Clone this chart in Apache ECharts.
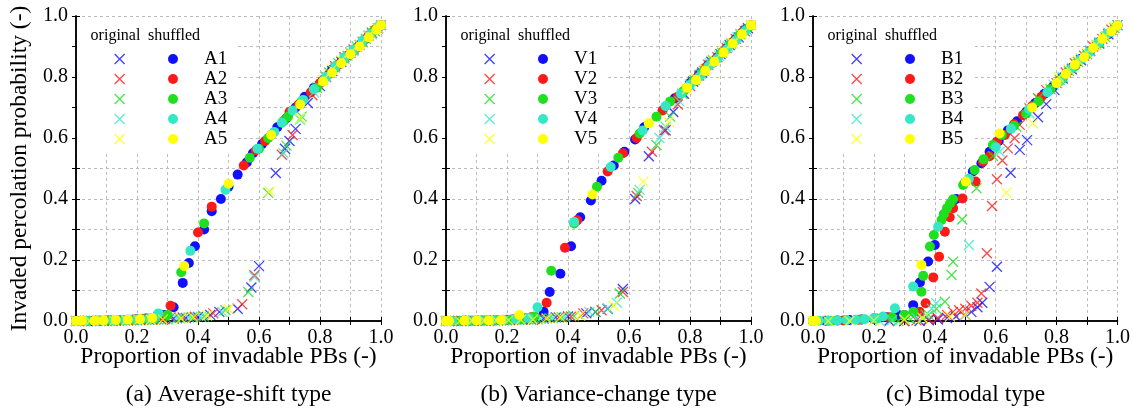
<!DOCTYPE html>
<html>
<head>
<meta charset="utf-8">
<script src="https://cdn.jsdelivr.net/npm/echarts@6/dist/echarts.min.js"></script>
<style>
  html, body { margin: 0; padding: 0; background: #fff; }
  #chart { width: 1133px; height: 409px; }
</style>
</head>
<body>
<div id="chart"></div>
<script>
// series colours (1..5)
const seriesColors = ['#1010ff', '#ff1a1a', '#1ee01e', '#35e8c5', '#ffff00'];
const yTickLabels = ['0.0', '0.2', '0.4', '0.6', '0.8', '1.0'];
const xTickLabels = ['0.0', '0.2', '0.4', '0.6', '0.8', '1.0'];
const captions = ['(a) Average-shift type', '(b) Variance-change type', '(c) Bimodal type'];
const avgNames = ['A1', 'A2', 'A3', 'A4', 'A5'];
const varNames = ['V1', 'V2', 'V3', 'V4', 'V5'];
const bimNames = ['B1', 'B2', 'B3', 'B4', 'B5'];

// (a) average-shift, original
const avgOrig1 = [[0,0],[0.04,0],[0.08,0.001],[0.12,0.001],[0.16,0.002],[0.2,0.003],[0.24,0.004],[0.28,0.006],[0.32,0.008],[0.36,0.01],[0.4,0.013],[0.44,0.02],[0.47,0.03],[0.53,0.04],[0.575,0.11],[0.6,0.18],[0.655,0.485],[0.685,0.565],[0.7,0.59],[0.72,0.63],[0.76,0.715],[0.8,0.77],[0.84,0.82],[0.87,0.85],[0.9,0.88],[0.93,0.905],[0.96,0.935],[0.99,0.96]];
const avgOrig2 = [[0.01,0],[0.05,0],[0.09,0.001],[0.13,0.001],[0.17,0.002],[0.21,0.003],[0.25,0.004],[0.29,0.006],[0.31,0.012],[0.35,0.012],[0.39,0.014],[0.45,0.025],[0.545,0.055],[0.585,0.15],[0.675,0.545],[0.71,0.61],[0.775,0.74],[0.82,0.8],[0.85,0.835],[0.88,0.865],[0.91,0.89],[0.94,0.915],[0.97,0.945],[1,0.97]];
const avgOrig3 = [[0.02,0],[0.06,0],[0.1,0.001],[0.14,0.001],[0.18,0.002],[0.22,0.003],[0.26,0.004],[0.3,0.006],[0.34,0.01],[0.38,0.012],[0.42,0.015],[0.49,0.035],[0.565,0.095],[0.63,0.42],[0.69,0.575],[0.74,0.67],[0.79,0.765],[0.83,0.815],[0.86,0.845],[0.89,0.87],[0.92,0.9],[0.95,0.925],[0.98,0.95]];
const avgOrig4 = [[0.03,0],[0.07,0],[0.11,0.001],[0.15,0.002],[0.19,0.002],[0.23,0.003],[0.27,0.005],[0.33,0.008],[0.37,0.012],[0.41,0.014],[0.48,0.03],[0.585,0.145],[0.68,0.55],[0.735,0.66],[0.78,0.75],[0.82,0.8],[0.85,0.83],[0.88,0.86],[0.91,0.885],[0.94,0.915],[0.97,0.94],[1,0.97]];
const avgOrig5 = [[0,0],[0.045,0],[0.085,0.001],[0.125,0.001],[0.165,0.002],[0.205,0.003],[0.245,0.004],[0.285,0.005],[0.345,0.008],[0.385,0.012],[0.43,0.018],[0.5,0.04],[0.635,0.425],[0.735,0.665],[0.81,0.79],[0.84,0.825],[0.87,0.855],[0.9,0.88],[0.93,0.905],[0.96,0.935],[0.99,0.96]];
// (a) average-shift, shuffled
const avgShuf1 = [[0,0],[0.02,0],[0.05,0],[0.08,0.001],[0.11,0.002],[0.14,0.003],[0.17,0.004],[0.2,0.006],[0.23,0.008],[0.26,0.012],[0.29,0.02],[0.32,0.045],[0.35,0.125],[0.37,0.19],[0.39,0.245],[0.42,0.3],[0.445,0.36],[0.475,0.4],[0.5,0.44],[0.53,0.48],[0.56,0.52],[0.58,0.55],[0.61,0.58],[0.64,0.61],[0.66,0.635],[0.69,0.665],[0.72,0.7],[0.75,0.735],[0.78,0.765],[0.81,0.79],[0.84,0.825],[0.87,0.85],[0.9,0.875],[0.93,0.905],[0.96,0.935],[0.99,0.96]];
const avgShuf2 = [[0,0],[0.03,0],[0.06,0.001],[0.1,0.001],[0.13,0.002],[0.16,0.003],[0.19,0.005],[0.22,0.007],[0.25,0.01],[0.28,0.015],[0.31,0.05],[0.4,0.29],[0.445,0.375],[0.55,0.51],[0.59,0.56],[0.62,0.59],[0.68,0.655],[0.7,0.685],[0.73,0.71],[0.77,0.75],[0.8,0.78],[0.83,0.81],[0.86,0.84],[0.89,0.87],[0.92,0.895],[0.95,0.925],[0.98,0.955],[1,0.97]];
const avgShuf3 = [[0,0],[0.04,0],[0.07,0.001],[0.1,0.002],[0.14,0.003],[0.18,0.004],[0.22,0.006],[0.26,0.01],[0.3,0.02],[0.345,0.16],[0.42,0.32],[0.57,0.535],[0.6,0.565],[0.63,0.6],[0.68,0.655],[0.695,0.67],[0.74,0.72],[0.79,0.765],[0.82,0.8],[0.85,0.83],[0.88,0.86],[0.91,0.885],[0.94,0.915],[0.97,0.945],[1,0.97]];
const avgShuf4 = [[0,0],[0.03,0.001],[0.07,0.001],[0.12,0.002],[0.16,0.003],[0.2,0.005],[0.24,0.008],[0.27,0.025],[0.375,0.23],[0.49,0.43],[0.595,0.565],[0.65,0.62],[0.675,0.65],[0.71,0.69],[0.745,0.725],[0.78,0.76],[0.82,0.8],[0.85,0.835],[0.88,0.865],[0.91,0.89],[0.94,0.92],[0.965,0.94],[0.99,0.965]];
const avgShuf5 = [[0,0],[0.02,0.001],[0.06,0.001],[0.09,0.002],[0.13,0.003],[0.17,0.004],[0.21,0.006],[0.25,0.01],[0.355,0.18],[0.5,0.45],[0.64,0.61],[0.735,0.71],[0.81,0.785],[0.84,0.815],[0.87,0.845],[0.9,0.875],[0.93,0.9],[0.96,0.93],[0.985,0.955],[1,0.97]];

// (b) variance-change, original
const varOrig1 = [[0,0],[0.04,0],[0.08,0.001],[0.12,0.001],[0.16,0.002],[0.2,0.003],[0.24,0.004],[0.28,0.005],[0.32,0.008],[0.36,0.012],[0.4,0.015],[0.46,0.025],[0.49,0.03],[0.53,0.04],[0.58,0.105],[0.62,0.4],[0.665,0.54],[0.72,0.625],[0.745,0.685],[0.78,0.745],[0.81,0.785],[0.84,0.815],[0.87,0.85],[0.9,0.875],[0.93,0.905],[0.96,0.93],[0.99,0.96]];
const varOrig2 = [[0.01,0],[0.05,0],[0.09,0.001],[0.13,0.001],[0.17,0.002],[0.21,0.003],[0.25,0.004],[0.29,0.006],[0.33,0.009],[0.37,0.012],[0.41,0.015],[0.45,0.025],[0.51,0.035],[0.58,0.095],[0.625,0.41],[0.675,0.555],[0.715,0.625],[0.76,0.71],[0.8,0.77],[0.83,0.805],[0.86,0.84],[0.89,0.865],[0.92,0.895],[0.95,0.925],[0.98,0.95]];
const varOrig3 = [[0.02,0],[0.06,0],[0.1,0.001],[0.14,0.001],[0.18,0.002],[0.22,0.003],[0.26,0.004],[0.3,0.006],[0.34,0.01],[0.38,0.012],[0.42,0.016],[0.49,0.03],[0.57,0.09],[0.63,0.42],[0.69,0.577],[0.735,0.67],[0.775,0.745],[0.815,0.79],[0.845,0.82],[0.875,0.855],[0.905,0.88],[0.935,0.91],[0.965,0.94],[1,0.97]];
const varOrig4 = [[0.03,0],[0.07,0],[0.11,0.001],[0.15,0.002],[0.19,0.002],[0.23,0.003],[0.27,0.005],[0.31,0.007],[0.35,0.01],[0.39,0.013],[0.47,0.03],[0.53,0.04],[0.56,0.06],[0.635,0.43],[0.7,0.6],[0.72,0.637],[0.765,0.72],[0.8,0.775],[0.835,0.81],[0.865,0.845],[0.895,0.87],[0.925,0.9],[0.955,0.93],[0.985,0.955]];
const varOrig5 = [[0,0],[0.045,0],[0.085,0.001],[0.125,0.001],[0.165,0.002],[0.205,0.003],[0.245,0.004],[0.285,0.005],[0.33,0.008],[0.375,0.012],[0.44,0.018],[0.55,0.05],[0.647,0.457],[0.73,0.653],[0.79,0.76],[0.82,0.795],[0.85,0.825],[0.88,0.855],[0.91,0.885],[0.94,0.91],[0.97,0.94],[1,0.97]];
// (b) variance-change, shuffled
const varShuf1 = [[0,0],[0.03,0],[0.06,0.001],[0.1,0.001],[0.14,0.002],[0.18,0.003],[0.22,0.005],[0.26,0.008],[0.32,0.03],[0.34,0.095],[0.375,0.155],[0.41,0.245],[0.44,0.34],[0.475,0.395],[0.51,0.46],[0.55,0.51],[0.585,0.555],[0.62,0.595],[0.65,0.635],[0.75,0.73],[0.8,0.78],[0.83,0.81],[0.86,0.84],[0.89,0.865],[0.92,0.895],[0.95,0.925],[0.98,0.955]];
const varShuf2 = [[0,0],[0.04,0],[0.08,0.001],[0.12,0.002],[0.16,0.002],[0.2,0.004],[0.24,0.006],[0.28,0.012],[0.33,0.06],[0.39,0.24],[0.43,0.33],[0.53,0.49],[0.58,0.55],[0.625,0.6],[0.71,0.69],[0.76,0.735],[0.79,0.765],[0.82,0.795],[0.85,0.83],[0.88,0.855],[0.91,0.885],[0.94,0.915],[0.97,0.945],[1,0.97]];
const varShuf3 = [[0,0],[0.05,0],[0.09,0.001],[0.13,0.002],[0.17,0.003],[0.21,0.004],[0.25,0.007],[0.29,0.015],[0.345,0.165],[0.42,0.32],[0.495,0.44],[0.565,0.535],[0.635,0.615],[0.69,0.67],[0.735,0.72],[0.78,0.755],[0.81,0.785],[0.84,0.815],[0.87,0.845],[0.9,0.875],[0.93,0.905],[0.96,0.935],[0.99,0.96]];
const varShuf4 = [[0,0],[0.02,0],[0.07,0.001],[0.11,0.002],[0.15,0.002],[0.19,0.003],[0.23,0.005],[0.27,0.01],[0.3,0.045],[0.42,0.325],[0.54,0.505],[0.645,0.625],[0.72,0.705],[0.77,0.745],[0.8,0.775],[0.83,0.8],[0.86,0.835],[0.89,0.86],[0.92,0.89],[0.95,0.92],[0.98,0.95]];
const varShuf5 = [[0,0],[0.01,0],[0.06,0.001],[0.1,0.002],[0.14,0.002],[0.18,0.003],[0.24,0.02],[0.48,0.415],[0.665,0.648],[0.79,0.765],[0.82,0.79],[0.85,0.82],[0.88,0.85],[0.91,0.88],[0.94,0.91],[0.97,0.94],[1,0.97]];

// (c) bimodal, original
const bimOrig1 = [[0.25,0],[0.3,0],[0.35,0],[0.38,0.002],[0.41,0.005],[0.44,0.01],[0.47,0.015],[0.5,0.02],[0.52,0.03],[0.54,0.045],[0.556,0.06],[0.58,0.112],[0.604,0.178],[0.649,0.486],[0.679,0.561],[0.703,0.593],[0.739,0.668],[0.766,0.711],[0.793,0.757],[0.82,0.795],[0.85,0.825],[0.88,0.855],[0.91,0.885],[0.94,0.91],[0.97,0.94],[1,0.97]];
const bimOrig2 = [[0.3,0],[0.34,0.002],[0.38,0.005],[0.41,0.01],[0.44,0.02],[0.46,0.03],[0.48,0.035],[0.5,0.04],[0.52,0.05],[0.54,0.06],[0.553,0.09],[0.571,0.222],[0.588,0.377],[0.604,0.465],[0.622,0.526],[0.64,0.566],[0.662,0.599],[0.679,0.643],[0.711,0.697],[0.74,0.73],[0.766,0.757],[0.8,0.78],[0.83,0.815],[0.86,0.845],[0.89,0.87],[0.92,0.9],[0.95,0.925],[0.98,0.955]];
const bimOrig3 = [[0.28,0],[0.32,0.005],[0.36,0.01],[0.38,0.02],[0.405,0.04],[0.433,0.063],[0.455,0.151],[0.46,0.194],[0.49,0.333],[0.537,0.435],[0.591,0.541],[0.668,0.637],[0.739,0.73],[0.78,0.76],[0.81,0.79],[0.84,0.82],[0.87,0.85],[0.9,0.875],[0.93,0.905],[0.96,0.93],[0.99,0.96]];
const bimOrig4 = [[0.22,0],[0.26,0.003],[0.3,0.006],[0.34,0.01],[0.37,0.02],[0.39,0.04],[0.405,0.058],[0.512,0.249],[0.613,0.555],[0.711,0.681],[0.79,0.775],[0.82,0.8],[0.85,0.83],[0.88,0.86],[0.91,0.885],[0.94,0.915],[0.97,0.945],[1,0.97]];
const bimOrig5 = [[0,0],[0.05,0],[0.12,0],[0.2,0.002],[0.3,0.005],[0.36,0.01],[0.45,0.015],[0.5,0.02],[0.635,0.421],[0.722,0.648],[0.808,0.799],[0.84,0.825],[0.87,0.855],[0.9,0.88],[0.93,0.905],[0.96,0.935],[0.99,0.965]];
// (c) bimodal, shuffled
const bimShuf1 = [[0,0],[0.04,0.001],[0.08,0.002],[0.12,0.003],[0.16,0.005],[0.2,0.008],[0.24,0.012],[0.28,0.02],[0.329,0.052],[0.351,0.126],[0.378,0.195],[0.4,0.249],[0.43,0.35],[0.455,0.38],[0.47,0.4],[0.5,0.455],[0.525,0.49],[0.553,0.517],[0.58,0.555],[0.61,0.59],[0.64,0.625],[0.67,0.655],[0.7,0.685],[0.73,0.715],[0.76,0.745],[0.79,0.77],[0.82,0.8],[0.85,0.83],[0.88,0.86],[0.91,0.885],[0.94,0.915],[0.97,0.94],[1,0.97]];
const bimShuf2 = [[0,0],[0.05,0.001],[0.1,0.002],[0.15,0.004],[0.2,0.007],[0.25,0.012],[0.3,0.02],[0.35,0.03],[0.37,0.058],[0.395,0.143],[0.414,0.211],[0.433,0.293],[0.449,0.34],[0.46,0.37],[0.491,0.402],[0.534,0.457],[0.558,0.522],[0.58,0.54],[0.604,0.588],[0.63,0.61],[0.66,0.645],[0.69,0.675],[0.72,0.705],[0.75,0.735],[0.78,0.76],[0.81,0.79],[0.84,0.82],[0.87,0.85],[0.9,0.875],[0.93,0.905],[0.96,0.935],[0.99,0.96]];
const bimShuf3 = [[0,0],[0.06,0.001],[0.11,0.003],[0.16,0.005],[0.21,0.008],[0.26,0.012],[0.3,0.02],[0.33,0.03],[0.356,0.096],[0.362,0.148],[0.384,0.244],[0.397,0.282],[0.422,0.331],[0.43,0.35],[0.44,0.37],[0.45,0.385],[0.46,0.399],[0.493,0.446],[0.531,0.495],[0.56,0.53],[0.591,0.577],[0.62,0.61],[0.66,0.64],[0.7,0.68],[0.74,0.72],[0.78,0.76],[0.82,0.795],[0.86,0.835],[0.9,0.875],[0.94,0.91],[0.98,0.95]];
const bimShuf4 = [[0,0],[0.02,0.001],[0.05,0.001],[0.08,0.002],[0.11,0.003],[0.14,0.004],[0.17,0.006],[0.2,0.009],[0.23,0.015],[0.269,0.042],[0.329,0.113],[0.411,0.309],[0.512,0.466],[0.6,0.57],[0.65,0.63],[0.71,0.695],[0.77,0.75],[0.81,0.785],[0.845,0.825],[0.875,0.855],[0.905,0.88],[0.935,0.91],[0.965,0.94],[0.995,0.965]];
const bimShuf5 = [[0,0],[0.01,0],[0.356,0.184],[0.502,0.457],[0.613,0.615],[0.72,0.7],[0.8,0.78],[0.83,0.81],[0.86,0.84],[0.89,0.865],[0.92,0.895],[0.95,0.925],[0.98,0.95],[1,0.97]];

const panels = [
  { left: 76, names: avgNames, orig: [avgOrig1, avgOrig2, avgOrig3, avgOrig4, avgOrig5], shuf: [avgShuf1, avgShuf2, avgShuf3, avgShuf4, avgShuf5] },
  { left: 446, names: varNames, orig: [varOrig1, varOrig2, varOrig3, varOrig4, varOrig5], shuf: [varShuf1, varShuf2, varShuf3, varShuf4, varShuf5] },
  { left: 813, names: bimNames, orig: [bimOrig1, bimOrig2, bimOrig3, bimOrig4, bimOrig5], shuf: [bimShuf1, bimShuf2, bimShuf3, bimShuf4, bimShuf5] }
];

const SERIF = '"Liberation Serif", "Times New Roman", serif';
const CROSS = 'path://M0,0L10,10M10,0L0,10';
const PLOT = 305, TOP = 16;

const chart = echarts.init(document.getElementById('chart'), null, { renderer: 'canvas' });

const grid = [], xAxis = [], yAxis = [], series = [], legend = [], graphic = [];

const tickFmt = (labels) => (v) => {
  const k = Math.round(v * 10);
  return k % 2 === 0 ? labels[k / 2] : '';
};

panels.forEach((p, g) => {
  grid.push({ left: p.left, top: TOP, width: PLOT, height: PLOT });
  const axisLine = { show: true, lineStyle: { color: '#000', width: 1.5 } };
  const axisTick = { show: true, inside: true, length: 4, lineStyle: { color: '#000', width: 1 } };
  xAxis.push({
    type: 'value', gridIndex: g, min: 0, max: 1, interval: 0.1, position: 'bottom',
    axisLine, axisTick,
    axisLabel: { formatter: tickFmt(xTickLabels), fontFamily: SERIF, fontSize: 20, color: '#000', margin: 7 },
    splitLine: { show: true, lineStyle: { color: '#bdbdbd', type: [3, 3], width: 1 } },
    name: 'Proportion of invadable PBs (-)', nameLocation: 'middle', nameGap: 24, nameMoveOverlap: false,
    nameTextStyle: { fontFamily: SERIF, fontSize: 23.5, color: '#000', verticalAlign: 'top' }
  });
  xAxis.push({
    type: 'value', gridIndex: g, min: 0, max: 1, interval: 0.1, position: 'top',
    axisLine, axisTick, axisLabel: { show: false }, splitLine: { show: false }
  });
  yAxis.push({
    type: 'value', gridIndex: g, min: 0, max: 1, interval: 0.1, position: 'left',
    axisLine, axisTick,
    axisLabel: { formatter: tickFmt(yTickLabels), fontFamily: SERIF, fontSize: 20, color: '#000', margin: 8 },
    splitLine: { show: true, lineStyle: { color: '#bdbdbd', type: [3, 3], width: 1 } },
    name: g === 0 ? 'Invaded percolation probability (-)' : '', nameLocation: 'middle', nameGap: 44,
    nameMoveOverlap: false,
    nameTextStyle: { fontFamily: SERIF, fontSize: 23.5, color: '#000' }
  });
  yAxis.push({
    type: 'value', gridIndex: g, min: 0, max: 1, interval: 0.1, position: 'right',
    axisLine, axisTick, axisLabel: { show: false }, splitLine: { show: false }
  });

  const origLegend = [], shufLegend = [];
  p.names.forEach((nm, i) => {
    const col = seriesColors[i];
    series.push({
      type: 'scatter', name: nm + ' original', xAxisIndex: g * 2, yAxisIndex: g * 2,
      data: p.orig[i], symbol: CROSS, symbolSize: 10,
      itemStyle: { color: 'rgba(0,0,0,0)', borderColor: col, borderWidth: 1.3 }
    });
    series.push({
      type: 'scatter', name: nm, xAxisIndex: g * 2, yAxisIndex: g * 2,
      data: p.shuf[i], symbol: 'circle', symbolSize: 10,
      itemStyle: { color: col, opacity: 1 }
    });
    origLegend.push({ name: nm + ' original', icon: CROSS,
      itemStyle: { color: 'rgba(0,0,0,0)', borderColor: col, borderWidth: 1.3 } });
    shufLegend.push({ name: nm, icon: 'circle', itemStyle: { color: col, borderWidth: 0 } });
  });

  const legTextStyle = {
    fontFamily: SERIF, fontSize: 19, color: '#000', lineHeight: 20,
    rich: { g: { width: 21, lineHeight: 20 } }
  };
  legend.push({
    data: origLegend, orient: 'vertical', left: p.left + 38, top: 49, padding: 0, itemGap: 0,
    itemWidth: 10, itemHeight: 10, selectedMode: false, formatter: () => ' ',
    textStyle: legTextStyle, z: 5
  });
  legend.push({
    data: shufLegend, orient: 'vertical', left: p.left + 92, top: 49, padding: 0, itemGap: 0,
    itemWidth: 10, itemHeight: 10, selectedMode: false, formatter: '{g| }{name}',
    textStyle: legTextStyle, z: 5
  });

  // white box behind the legend (hides grid lines)
  graphic.push({
    type: 'rect', z: 1, silent: true,
    shape: { x: p.left + 1, y: TOP + 1, width: 160, height: 135 },
    style: { fill: '#fff' }
  });
  graphic.push({
    type: 'text', z: 10, silent: true,
    style: { x: p.left + 39.5, y: 36, text: 'original', textAlign: 'center', textVerticalAlign: 'middle',
      font: '16px ' + SERIF, fill: '#000' }
  });
  graphic.push({
    type: 'text', z: 10, silent: true,
    style: { x: p.left + 98, y: 36, text: 'shuffled', textAlign: 'center', textVerticalAlign: 'middle',
      font: '16px ' + SERIF, fill: '#000' }
  });
  graphic.push({
    type: 'text', z: 10, silent: true,
    style: { x: p.left + PLOT / 2, y: 395, text: captions[g], textAlign: 'center', textVerticalAlign: 'middle',
      font: '23.5px ' + SERIF, fill: '#000' }
  });
});

chart.setOption({
  animation: false,
  backgroundColor: '#fff',
  grid, xAxis, yAxis, series, legend, graphic
});
</script>
</body>
</html>
